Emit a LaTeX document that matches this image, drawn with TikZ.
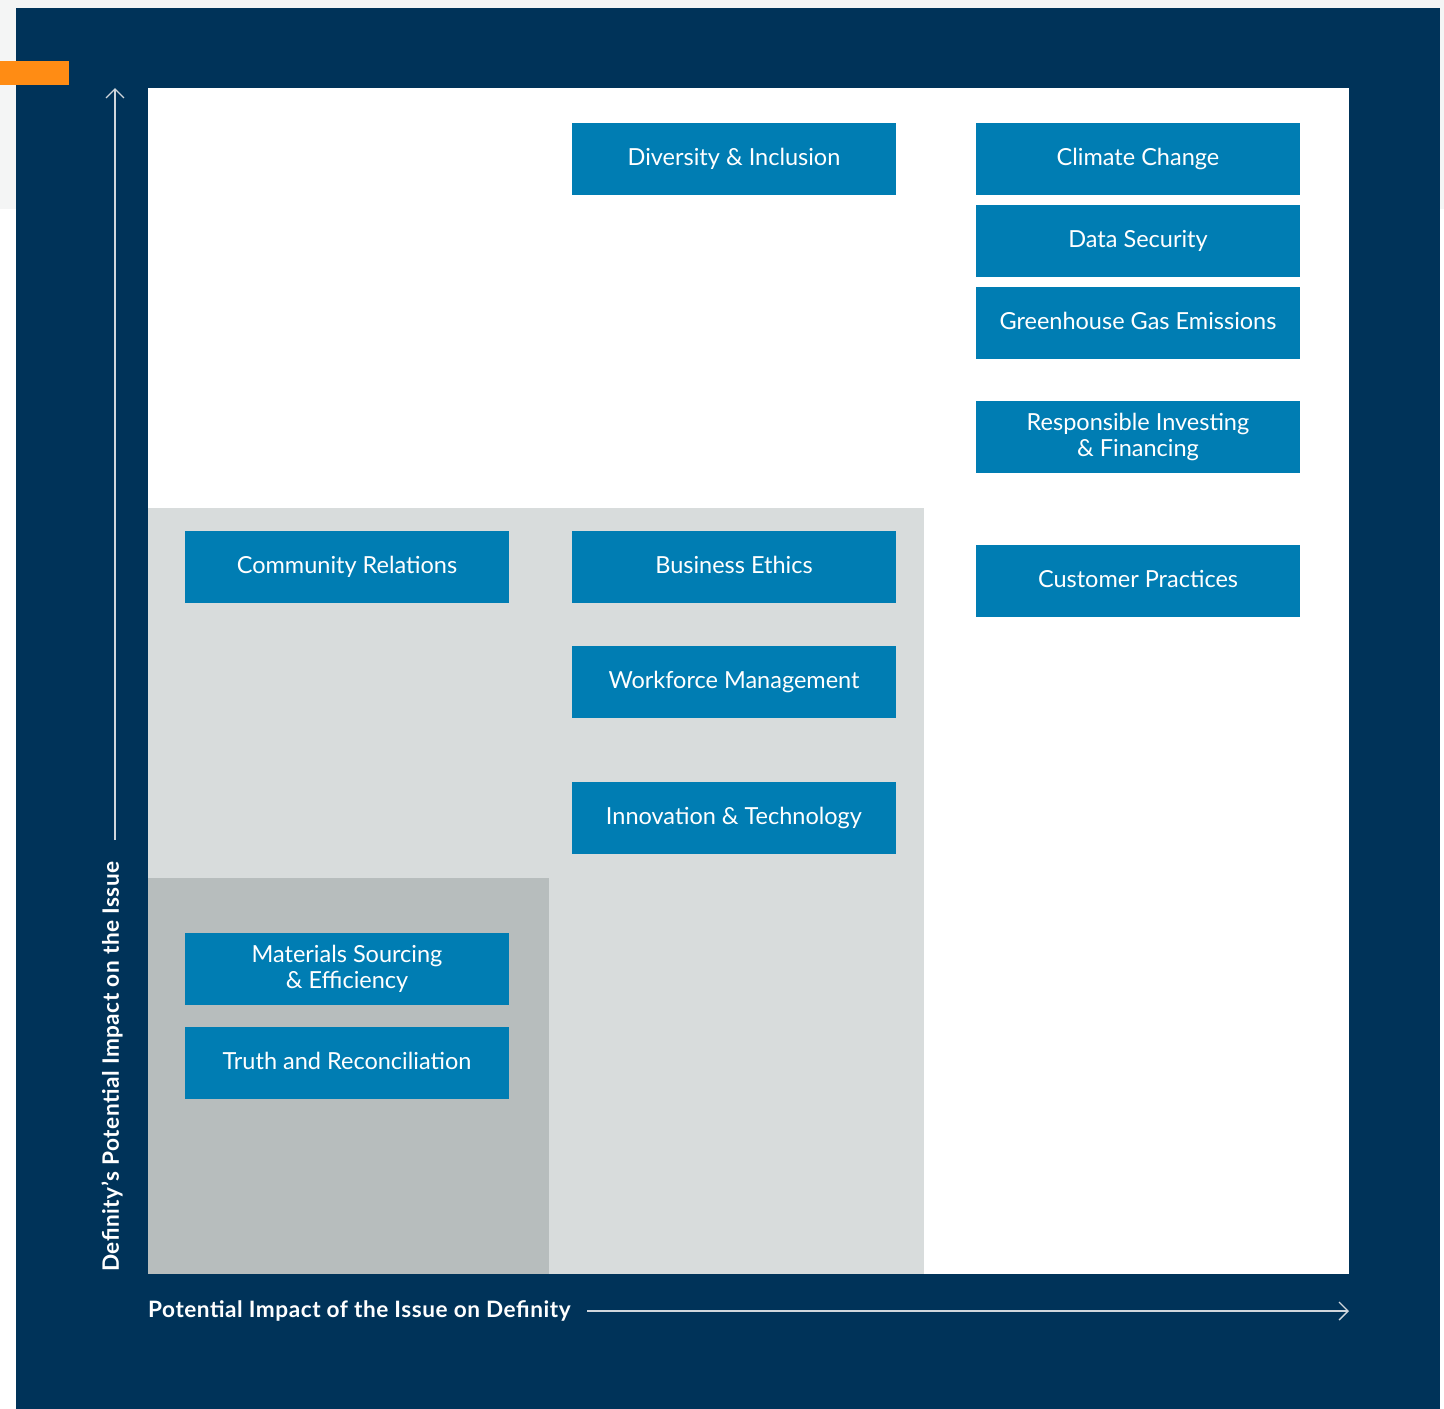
\documentclass[tikz,border=0pt]{standalone}
\usepackage{fontspec}
\setmainfont{Lato}
\usetikzlibrary{arrows.meta}
\definecolor{navy}{HTML}{003359}
\definecolor{issueblue}{HTML}{007DB3}
\definecolor{lightzone}{HTML}{D8DCDC}
\definecolor{midzone}{HTML}{B7BDBD}
\definecolor{accent}{HTML}{FF8C14}
\definecolor{pagebg}{HTML}{F4F5F5}
\definecolor{axisline}{HTML}{D0D6DC}
\tikzset{
  issue/.style={fill=issueblue, text=white, minimum width=324pt, minimum height=72pt,
    inner sep=0pt, align=center, font=\fontsize{23.5}{26}\selectfont,
    execute at begin node={\vphantom{g}}},
  axislabel/.style={text=white, inner sep=0pt,
    font=\fontsize{22.6}{26}\selectfont\bfseries\addfontfeature{LetterSpace=2.4}},
  axisarrow/.style={draw=axisline, line width=1.4pt, -{Straight Barb[length=9pt,width=18pt,line width=1.4pt]}}
}
\begin{document}
\begin{tikzpicture}[x=1pt,y=-1pt]
\useasboundingbox (0,0) rectangle (1444,1409);
% page background
\fill[white] (0,0) rectangle (1444,1409);
\fill[pagebg] (0,0) rectangle (1444,8);
\fill[pagebg] (0,0) rectangle (16,209);
\fill[pagebg] (1440,0) rectangle (1444,209);
% navy frame
\fill[navy] (16,8) rectangle (1440,1409);
% orange tab
\fill[accent] (0,61) rectangle (69,85);
% plot area
\fill[white] (148,88) rectangle (1349,1274);
\fill[lightzone] (148,508) rectangle (924,1274);
\fill[midzone] (148,878) rectangle (549,1274);
% axes
\coordinate (ystart) at (115,840);
\coordinate (yend) at (115,88);
\coordinate (xstart) at (587,1311);
\coordinate (xend) at (1349,1311);
\draw[axisarrow] (ystart) -- (yend);
\draw[axisarrow] (xstart) -- (xend);
\node[axislabel, rotate=90, anchor=west] (ylab) at (112,1272) {Definity’s Potential Impact on the Issue};
\node[axislabel, anchor=base west] (xlab) at (148,1317) {Potential Impact of the Issue on Definity};
% issues
\node[issue] (di) at (734,159) {Diversity \& Inclusion};
\node[issue] (cc) at (1138,159) {Climate Change};
\node[issue] (ds) at (1138,241) {Data Security};
\node[issue] (ghg) at (1138,323) {Greenhouse Gas Emissions};
\node[issue] (ri) at (1138,437) {Responsible Investing\\\& Financing};
\node[issue] (cr) at (347,567) {Community Relations};
\node[issue] (be) at (734,567) {Business Ethics};
\node[issue] (cp) at (1138,581) {Customer Practices};
\node[issue] (wm) at (734,682) {Workforce Management};
\node[issue] (it) at (734,818) {Innovation \& Technology};
\node[issue] (ms) at (347,969) {Materials Sourcing\\\& Efficiency};
\node[issue] (tr) at (347,1063) {Truth and Reconciliation};
\end{tikzpicture}
\end{document}
